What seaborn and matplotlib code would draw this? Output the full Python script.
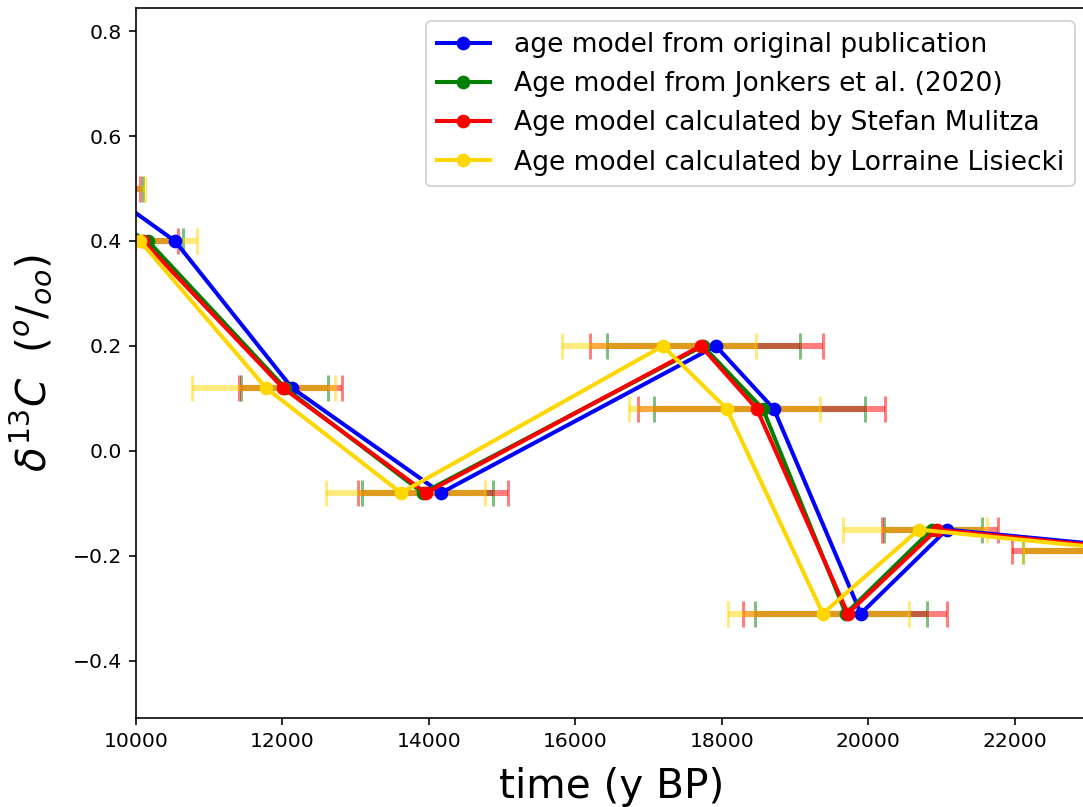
import numpy as np
import pandas as pd
import matplotlib
matplotlib.use("Agg")
import matplotlib.pyplot as plt
import seaborn as sns

# d13C values (per mil), same for every age model
d13c = [0.5, 0.4, 0.12, -0.08, 0.2, 0.08, -0.31, -0.15, -0.19]

labels = ["age model from original publication",
          "Age model from Jonkers et al. (2020)",
          "Age model calculated by Stefan Mulitza",
          "Age model calculated by Lorraine Lisiecki"]
colors = ["blue", "green", "red", "gold"]

# ages (y BP)
age_orig = [9528, 10532, 12130, 14164, 17918, 18710, 19898, 21071, 24045]

age_jonkers = [8800, 10164, 12034, 13918, 17741, 18560, 19693, 20867, 23700]
jonkers_lo = [7500, 9690, 11433, 13085, 16430, 17072, 18451, 20212, 22109]
jonkers_hi = [10096, 10642, 12621, 14874, 19065, 19952, 20799, 21550, 25300]

age_mulitza = [9000, 10096, 12007, 13959, 17713, 18478, 19720, 20935, 23785]
mulitza_lo = [7950, 9610, 11406, 13031, 16198, 16853, 18287, 20184, 21959]
mulitza_hi = [10055, 10573, 12812, 15079, 19379, 20225, 21072, 21768, 25600]

age_lisiecki = [9100, 10055, 11775, 13618, 17195, 18068, 19379, 20689, 23580]
lisiecki_lo = [8080, 9280, 10765, 12594, 15816, 16730, 18082, 19652, 22109]
lisiecki_hi = [10123, 10833, 12717, 14765, 18464, 19338, 20553, 21618, 25000]

ages = [age_orig, age_jonkers, age_mulitza, age_lisiecki]
df = pd.concat([pd.DataFrame({"age": a, "d13c": d13c, "model": l})
                for a, l in zip(ages, labels)], ignore_index=True)

fig = plt.figure(figsize=(1083 / 146, 807 / 146), dpi=146)
ax = fig.add_axes([136 / 1083, 89 / 807, 952 / 1083, 710 / 807])

# age uncertainty bars (no bars for the original model)
for a, lo, hi, c in [(age_jonkers, jonkers_lo, jonkers_hi, "green"),
                     (age_mulitza, mulitza_lo, mulitza_hi, "red"),
                     (age_lisiecki, lisiecki_lo, lisiecki_hi, "gold")]:
    a = np.array(a)
    xerr = [a - np.array(lo), np.array(hi) - a]
    ax.errorbar(a, d13c, xerr=xerr, fmt="none", ecolor=c, alpha=0.5,
                elinewidth=3, capsize=6.5, capthick=1.5)

n = len(ax.lines)
sns.lineplot(data=df, x="age", y="d13c", hue="model", hue_order=labels,
             palette=dict(zip(labels, colors)), sort=False, estimator=None,
             marker="o", markersize=6, markeredgecolor=None, linewidth=2,
             legend=False, ax=ax)
handles = ax.lines[n:]

ax.legend(handles, labels, loc="upper right", fontsize=13.1,
          handletextpad=0.9)
ax.set_xlim(10000, 23000)
ax.set_ylim(-0.509, 0.844)
ax.set_xlabel("time (y BP)", fontsize=20, labelpad=8)
ax.set_ylabel(r"$\delta^{13}C$  ($^{o}/_{oo}$)", fontsize=20, labelpad=9)

fig.savefig("out.png", dpi=146)
